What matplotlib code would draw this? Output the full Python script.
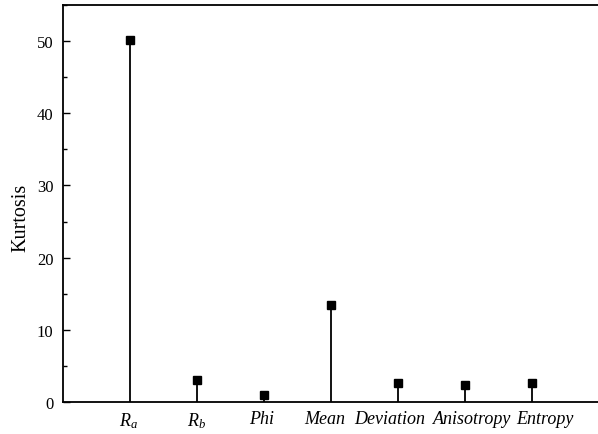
import matplotlib
matplotlib.use("Agg")
import matplotlib.pyplot as plt
import matplotlib.transforms as mtransforms
from matplotlib.ticker import MultipleLocator

# values
labels = ['Ra', 'Rb', 'Phi', 'Mean', 'Deviation', 'Anisotropy', 'Entropy']
kurtosis = [50.2, 3.1, 1.0, 13.4, 2.6, 2.3, 2.6]

plt.rcParams['font.family'] = ['Liberation Serif', 'DejaVu Serif']
plt.rcParams['mathtext.fontset'] = 'custom'
plt.rcParams['mathtext.it'] = 'Liberation Serif:italic'
plt.rcParams['mathtext.rm'] = 'Liberation Serif'

fig = plt.figure(figsize=(5.98, 4.35), dpi=100)
ax = fig.add_axes([63 / 598, 32 / 435, 536 / 598, 397 / 435])

x = list(range(1, len(labels) + 1))
ax.vlines(x, 0, kurtosis, colors='black', linewidth=1.3)
ax.plot(x, kurtosis, 's', color='black', markersize=5.5)

ax.set_xlim(0, 8)
ax.set_ylim(0, 55)
tick_text = [r'$R_{a}$', r'$R_{b}$', 'Phi', 'Mean', 'Deviation', 'Anisotropy', 'Entropy']
ax.set_xticks(x)
ax.set_xticklabels(tick_text, fontstyle='italic', fontsize=13)
ax.tick_params(axis='x', length=0, pad=6)

# the original labels sit a little off their stems
shifts = [-2, 0, -2, -6, -8, 7, 13]
for lab, dx in zip(ax.get_xticklabels(), shifts):
    lab.set_transform(lab.get_transform() + mtransforms.ScaledTranslation(dx / 100, 0, fig.dpi_scale_trans))

ax.yaxis.set_major_locator(MultipleLocator(10))
ax.yaxis.set_minor_locator(MultipleLocator(5))
ax.tick_params(axis='y', which='major', direction='in', length=5, width=1, labelsize=12, pad=7)
ax.tick_params(axis='y', which='minor', direction='in', length=3, width=1)
ax.set_ylabel('Kurtosis', fontsize=14.5)
ax.yaxis.set_label_coords(-0.06, 0.466)

for side in ['left', 'bottom', 'top']:
    ax.spines[side].set_linewidth(1.3)
ax.spines['right'].set_visible(False)

fig.savefig('out.png', dpi=100)
